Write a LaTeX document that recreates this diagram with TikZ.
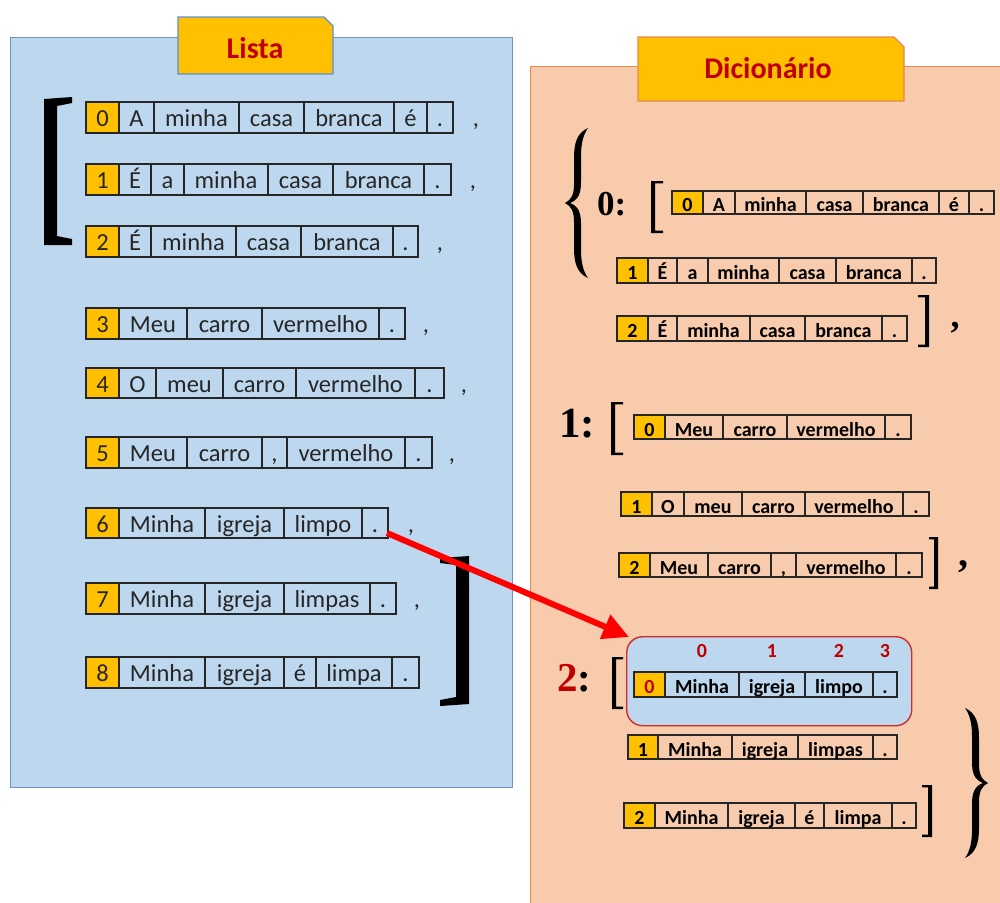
\documentclass[tikz,border=0pt]{standalone}
\usepackage{fontspec}
\usetikzlibrary{arrows.meta}
\newfontfamily\carlito{Carlito}
\newfontfamily\timesf{Liberation Serif}
\definecolor{panelblue}{HTML}{BDD7EE}
\definecolor{panelblueline}{HTML}{7094C2}
\definecolor{tabblueline}{HTML}{5B8FD3}
\definecolor{panelpeach}{HTML}{F8CBAD}
\definecolor{panelorange}{HTML}{E58A4E}
\definecolor{tabgold}{HTML}{FFC000}
\definecolor{titlered}{HTML}{C00000}
\definecolor{boxred}{HTML}{D02C2C}
\definecolor{arrowred}{HTML}{FF0000}

\tikzset{
  cellbase/.style={draw=black!85, line width=1.1pt, inner sep=0pt, outer sep=0pt, anchor=north west},
  lcell/.style={cellbase, font=\carlito\fontsize{24.5}{26}\selectfont, text=black!85,
                text height=21pt, text depth=2.6pt},
  dcell/.style={cellbase, font=\carlito\bfseries\fontsize{20}{22}\selectfont, text=black,
                text height=19.4pt, text depth=1pt},
  idxcell/.style={fill=tabgold},
  idxredcell/.style={fill=tabgold, text=titlered},
  lcomma/.style={font=\carlito\fontsize{24.5}{26}\selectfont, text=black!85, inner sep=0pt,
                 text height=21pt, text depth=2.6pt},
  dcomma/.style={font=\timesf\bfseries, inner sep=0pt, anchor=base},
  keytext/.style={font=\timesf\bfseries, inner sep=0pt, anchor=base west},
  titletext/.style={font=\carlito\bfseries\fontsize{30}{32}\selectfont, text=titlered, inner sep=0pt, anchor=base},
  tabshape/.style={fill=tabgold, line width=1.3pt},
  poslabel/.style={font=\carlito\bfseries\fontsize{20}{22}\selectfont, text=titlered, inner sep=0pt},
  linkarrow/.style={line width=6pt, draw=arrowred, -{Triangle[length=26pt,width=25pt]}},
}

% one sentence as a row of cells: name, top, bottom, cell style, index style, list xl/xr/word
\newcommand\sentrow[6]{%
  \foreach \xl/\xr/\w [count=\k] in {#6}{%
    \pgfmathsetmacro\cellw{\xr-\xl}%
    \pgfmathsetmacro\cellh{#3-#2}%
    \ifnum\k=1
      \node[#4,#5,minimum width=\cellw pt,minimum height=\cellh pt] (#1-\k) at (\xl,#2) {\w};
    \else
      \node[#4,minimum width=\cellw pt,minimum height=\cellh pt] (#1-\k) at (\xl,#2) {\w};
    \fi
  }%
}
% thin serif brackets: x of stroke side, x of arm ends, top, bottom
\newcommand\thinlbrack[4]{%
  \fill (#1,#3) -- (#2,#3) -- (#2,#3+2.4) -- (#1+4,#3+2.4) -- (#1+4,#4-2.4)
        -- (#2,#4-2.4) -- (#2,#4) -- (#1,#4) -- cycle;}
\newcommand\thinrbrack[4]{%
  \fill (#1,#3) -- (#2,#3) -- (#2,#4) -- (#1,#4) -- (#1,#4-2.4) -- (#2-4,#4-2.4)
        -- (#2-4,#3+2.4) -- (#1,#3+2.4) -- cycle;}
% curly brace, tip at the origin, opening to the right
\newcommand\bracefill{%
  \fill (23,-75) .. controls (12,-70) and (9,-60) .. (9,-45) -- (9,-19)
        .. controls (9,-8) and (6,-3) .. (0,0) .. controls (6,3) and (9,8) .. (9,19)
        -- (9,45) .. controls (9,60) and (12,70) .. (23,75)
        .. controls (18,68) and (16,59) .. (16,47) -- (16,21)
        .. controls (16,9) and (13,3) .. (5,0) .. controls (13,-3) and (16,-9) .. (16,-21)
        -- (16,-47) .. controls (16,-59) and (18,-68) .. (23,-75) -- cycle;}

\begin{document}
\begin{tikzpicture}[x=1pt,y=-1pt]
\useasboundingbox (0,0) rectangle (1000,902);
\clip (0,0) rectangle (1000,902);
\fill[white] (0,0) rectangle (1000,902);

% ---------- panels ----------
\node[draw=panelblueline, fill=panelblue, line width=1.3pt, inner sep=0pt, anchor=north west,
      minimum width=502pt, minimum height=750pt] (listpanel) at (10,37) {};
\node[draw=panelorange, fill=panelpeach, line width=1.3pt, inner sep=0pt, anchor=north west,
      minimum width=490pt, minimum height=860pt] (dictpanel) at (530,66) {};

% ---------- tabs ----------
\draw[tabshape, draw=tabblueline] (178,17) -- (324,17) -- (333,26) -- (333,74) -- (178,74) -- cycle;
\node[titletext] (listtitle) at (255,58) {Lista};
\draw[tabshape, draw=panelorange] (638,37) -- (894,37) -- (904,47) -- (904,101) -- (638,101) -- cycle;
\node[titletext] (dicttitle) at (768,78) {Dicionário};

% ---------- list ----------
\sentrow{l0}{102}{133}{lcell}{idxcell}{86/119/0,119/154/A,154/239/minha,239/304/casa,304/394/branca,394/427/é,427/453/.}
\sentrow{l1}{164}{195}{lcell}{idxcell}{86/119/1,119/151/É,151/184/a,184/268/minha,268/333/casa,333/424/branca,424/451/.}
\sentrow{l2}{226}{257}{lcell}{idxcell}{86/119/2,119/151/É,151/236/minha,236/301/casa,301/393/branca,393/418/.}
\sentrow{l3}{308}{339}{lcell}{idxcell}{86/119/3,119/187/Meu,187/262/carro,262/379/vermelho,379/405/.}
\sentrow{l4}{368}{398}{lcell}{idxcell}{86/119/4,119/156/O,156/223/meu,223/296/carro,296/415/vermelho,415/444/.}
\sentrow{l5}{437}{468}{lcell}{idxcell}{86/119/5,119/187/Meu,187/262/carro,262/287/{,},287/405/vermelho,405/432/.}
\sentrow{l6}{508}{538}{lcell}{idxcell}{86/119/6,119/205/Minha,205/284/igreja,284/362/limpo,362/388/.}
\sentrow{l7}{583}{614}{lcell}{idxcell}{86/119/7,119/205/Minha,205/284/igreja,284/370/limpas,370/396/.}
\sentrow{l8}{657}{688}{lcell}{idxcell}{86/119/8,119/205/Minha,205/284/igreja,284/316/é,316/392/limpa,392/419/.}

\node[lcomma] (lc0) at (476,117.5) {,};
\node[lcomma] (lc1) at (473,179.5) {,};
\node[lcomma] (lc2) at (440,241.5) {,};
\node[lcomma] (lc3) at (426,323.5) {,};
\node[lcomma] (lc4) at (464,383) {,};
\node[lcomma] (lc5) at (452,452.5) {,};
\node[lcomma] (lc6) at (411,523) {,};
\node[lcomma] (lc7) at (417,598.5) {,};

% heavy list brackets
\fill (44,99) -- (72,97) -- (72,103) -- (57,106) -- (57,236) -- (72,239) -- (72,245) -- (44,245) -- cycle;
\fill (440,558) -- (469,556) -- (469,704) -- (440,706) -- (440,700) -- (456,697) -- (456,565) -- (440,563) -- cycle;

% ---------- dictionary ----------
\begin{scope}[shift={(565,203)}]\bracefill\end{scope}
\begin{scope}[shift={(988,783)},xscale=-1]\bracefill\end{scope}

\node[keytext, font=\timesf\bfseries\fontsize{35}{35}\selectfont] (key0) at (597,215) {0:};
\node[keytext, font=\timesf\bfseries\fontsize{43}{43}\selectfont] (key1) at (559,437) {1:};
\node[keytext, font=\timesf\bfseries\fontsize{41}{41}\selectfont] (key2) at (557,691) {\textcolor{titlered}{2}:};

\thinlbrack{651}{663}{181}{233}
\thinrbrack{918}{929}{295}{347}
\thinlbrack{611}{623}{402}{455}
\thinrbrack{929}{938}{537}{589}
\thinlbrack{612}{623}{657}{709}
\thinrbrack{922}{932}{785}{837}

\node[dcomma, font=\timesf\bfseries\fontsize{36}{36}\selectfont] (dc0) at (955,327) {,};
\node[dcomma, font=\timesf\bfseries\fontsize{40}{40}\selectfont] (dc1) at (963,566) {,};

\sentrow{d00}{191}{214}{dcell}{idxcell}{672/703/0,703/735/A,735/806/minha,806/863/casa,863/939/branca,939/969/é,969/994/.}
\sentrow{d01}{258}{283}{dcell}{idxcell}{617/648/1,648/677/É,677/708/a,708/779/minha,779/836/casa,836/912/branca,912/936/.}
\sentrow{d02}{316}{341}{dcell}{idxcell}{617/648/2,648/677/É,677/750/minha,750/805/casa,805/882/branca,882/907/.}
\sentrow{d10}{415}{439}{dcell}{idxcell}{634/665/0,665/723/Meu,723/787/carro,787/885/vermelho,885/911/.}
\sentrow{d11}{492}{516}{dcell}{idxcell}{621/652/1,652/684/O,684/742/meu,742/805/carro,805/903/vermelho,903/929/.}
\sentrow{d12}{553}{577}{dcell}{idxcell}{619/650/2,650/708/Meu,708/771/carro,771/796/{,},796/896/vermelho,896/922/.}

% highlighted entry
\node[draw=boxred, fill=panelblue, line width=1.4pt, rounded corners=16pt, inner sep=0pt,
      anchor=north west, minimum width=285pt, minimum height=89pt] (hl) at (626,636) {};
\sentrow{d20}{672}{697}{dcell}{idxredcell}{634/665/0,665/739/Minha,739/805/igreja,805/873/limpo,873/897/.}
\node[poslabel] (pos0) at ([yshift=21pt]d20-2.north) {0};
\node[poslabel] (pos1) at ([yshift=21pt]d20-3.north) {1};
\node[poslabel] (pos2) at ([yshift=21pt]d20-4.north) {2};
\node[poslabel] (pos3) at ([yshift=21pt]d20-5.north) {3};

\sentrow{d21}{735}{759}{dcell}{idxcell}{628/658/1,658/732/Minha,732/798/igreja,798/873/limpas,873/897/.}
\sentrow{d22}{803}{828}{dcell}{idxcell}{624/655/2,655/728/Minha,728/795/igreja,795/824/é,824/892/limpa,892/916/.}

% ---------- link ----------
\draw[linkarrow] ([xshift=-1pt,yshift=5pt]l6-5.south east) -- ([xshift=3pt,yshift=-1pt]hl.north west);
\end{tikzpicture}
\end{document}
